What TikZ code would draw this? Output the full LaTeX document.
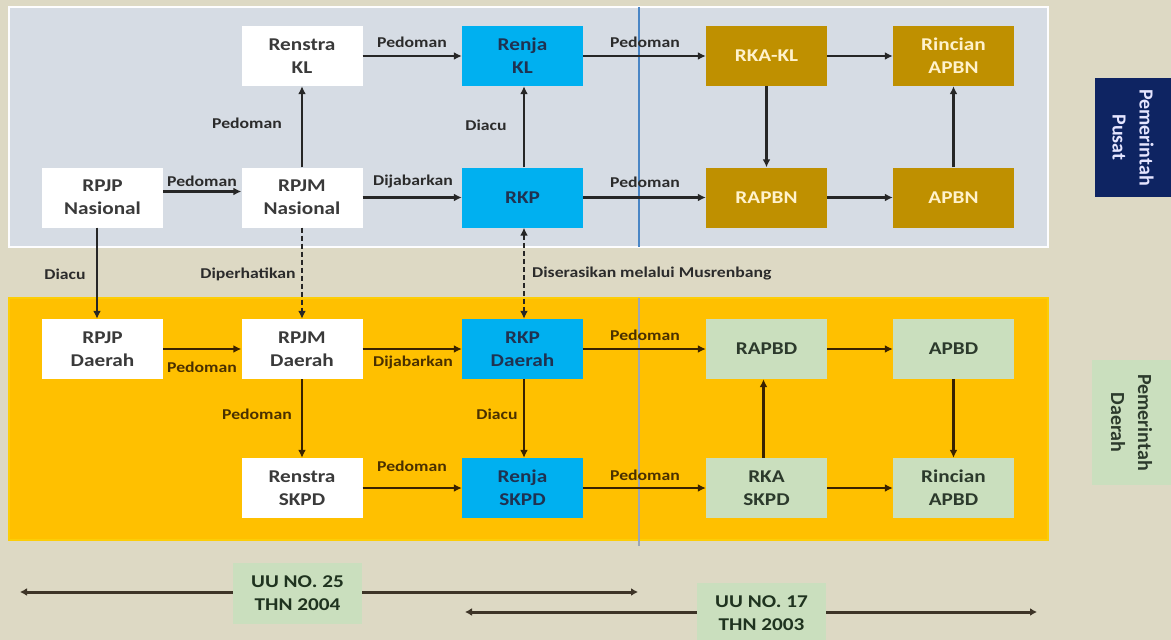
\documentclass[tikz,border=0pt]{standalone}
\usepackage{fontspec}
\setmainfont{Carlito}
\newfontfamily\bx{Carlito}[FakeStretch=1.18]
\usetikzlibrary{arrows.meta}
\definecolor{bgtan}{HTML}{DDD9C4}
\definecolor{toppanel}{HTML}{D6DCE4}
\definecolor{botpanel}{HTML}{FFC000}
\definecolor{cyanbox}{HTML}{00B0F0}
\definecolor{cyantxt}{HTML}{1F3251}
\definecolor{goldbox}{HTML}{BF9000}
\definecolor{goldtxt}{HTML}{FFF2CC}
\definecolor{greenbox}{HTML}{CADFBE}
\definecolor{greentxt}{HTML}{2C3A2C}
\definecolor{uutxt}{HTML}{1F331F}
\definecolor{txtdark}{HTML}{3A3A3A}
\definecolor{arrtop}{HTML}{262626}
\definecolor{arrbot}{HTML}{3A2200}
\definecolor{lbltop}{HTML}{2B2B2B}
\definecolor{lblbot}{HTML}{4A3000}
\definecolor{navy}{HTML}{0E2462}
\definecolor{tlcol}{HTML}{3D3427}
\definecolor{vline}{HTML}{4A86C5}
\definecolor{vlineb}{HTML}{9DA7B5}
\tikzset{
 box/.style={minimum width=121pt, minimum height=60pt, inner sep=0pt, align=center,
   font=\bx\bfseries\fontsize{18}{23}\selectfont},
 wbox/.style={box, fill=white, text=txtdark},
 cbox/.style={box, fill=cyanbox, text=cyantxt},
 gbox/.style={box, fill=goldbox, text=goldtxt},
 lbox/.style={box, fill=greenbox, text=greentxt},
 arr/.style={line width=2.4pt, draw=arrtop, -{Latex[length=8pt,width=8pt]}},
 arrb/.style={arr, draw=arrbot},
 darr/.style={line width=2.6pt, draw=arrtop, dash pattern=on 5pt off 3pt,
   {Latex[length=8pt,width=8pt]}-{Latex[length=8pt,width=8pt]}},
 lbl/.style={font=\bx\bfseries\fontsize{15}{18}\selectfont, text=lbltop, inner sep=0pt},
 lblb/.style={lbl, text=lblbot},
 side/.style={rotate=-90, align=center, inner sep=0pt,
   font=\bfseries\fontsize{20}{27}\selectfont},
 uubox/.style={fill=greenbox, minimum width=129pt, minimum height=61pt, inner sep=0pt, align=center,
   text=uutxt, font=\bx\bfseries\fontsize{18}{23}\selectfont},
 tl/.style={line width=3pt, draw=tlcol, -{Latex[length=7pt,width=8pt]}}
}
\begin{document}
\begin{tikzpicture}[x=1pt,y=-1pt]
\fill[bgtan] (0,0) rectangle (1171,640);
\useasboundingbox (0,0) rectangle (1171,640);
\clip (0,0) rectangle (1171,640);
% panels
\draw[fill=toppanel, draw=white!95!toppanel, line width=2pt] (9,7) rectangle (1048,247);
\draw[fill=botpanel, draw=yellow!30!botpanel, line width=2pt] (9,298) rectangle (1048,540);
\draw[vline, line width=1.2pt] (639,7) -- (639,247);
\draw[vlineb, line width=1.2pt] (639,298) -- (639,546);

% top nodes
\node[wbox] (renstrakl) at (302,56) {Renstra\\KL};
\node[cbox] (renjakl) at (522.5,56) {Renja\\KL};
\node[gbox] (rkakl) at (766.5,56) {RKA-KL};
\node[gbox] (rincianapbn) at (953.5,56) {Rincian\\APBN};
\node[wbox] (rpjpnas) at (102.5,197.5) {RPJP\\Nasional};
\node[wbox] (rpjmnas) at (302,197.5) {RPJM\\Nasional};
\node[cbox] (rkp) at (522.5,197.5) {RKP};
\node[gbox] (rapbn) at (766.5,197.5) {RAPBN};
\node[gbox] (apbn) at (953.5,197.5) {APBN};
% bottom nodes
\node[wbox] (rpjpda) at (102.5,349) {RPJP\\Daerah};
\node[wbox] (rpjmda) at (302,349) {RPJM\\Daerah};
\node[cbox] (rkpda) at (522.5,349) {RKP\\Daerah};
\node[lbox] (rapbd) at (766.5,349) {RAPBD};
\node[lbox] (apbd) at (953.5,349) {APBD};
\node[wbox] (renstraskpd) at (302,488) {Renstra\\SKPD};
\node[cbox] (renjaskpd) at (522.5,488) {Renja\\SKPD};
\node[lbox] (rkaskpd) at (766.5,488) {RKA\\SKPD};
\node[lbox] (rincianapbd) at (953.5,488) {Rincian\\APBD};

% side labels
\node[side, fill=navy, text=white!90!blue, minimum width=119pt, minimum height=76pt] (pusat) at (1133,137.5) {Pemerintah\\Pusat};
\node[side, fill=greenbox, text=greentxt, minimum width=125pt, minimum height=79pt] (daerah) at (1131.5,422.5) {Pemerintah\\Daerah};

% top arrows
\draw[arr] (renstrakl) -- (renjakl);
\draw[arr] (renjakl) -- (rkakl);
\draw[arr] (rkakl) -- (rincianapbn);
\draw[arr] ([yshift=6pt]rpjpnas.east) -- ([yshift=6pt]rpjmnas.west);
\draw[arr] (rpjmnas) -- (rkp);
\draw[arr] (rkp) -- (rapbn);
\draw[arr] (rapbn) -- (apbn);
\draw[arr] (rpjmnas) -- (renstrakl);
\draw[arr] ([xshift=1.5pt]rkp.north) -- ([xshift=1.5pt]renjakl.south);
\draw[arr] (rkakl) -- (rapbn);
\draw[arr] (apbn) -- (rincianapbn);
% between
\draw[arr] ([xshift=-5.5pt]rpjpnas.south) -- ([xshift=-5.5pt]rpjpda.north);
\draw[darr, -{Latex[length=8pt,width=8pt]}] (rpjmnas) -- (rpjmda);
\draw[darr] ([xshift=1.5pt]rkp.south) -- ([xshift=1.5pt]rkpda.north);
% bottom arrows
\draw[arrb] (rpjpda) -- (rpjmda);
\draw[arrb] (rpjmda) -- (rkpda);
\draw[arrb] (rkpda) -- (rapbd);
\draw[arrb] (rapbd) -- (apbd);
\draw[arrb] (rpjmda) -- (renstraskpd);
\draw[arrb] ([xshift=1.5pt]rkpda.south) -- ([xshift=1.5pt]renjaskpd.north);
\draw[arrb] (renstraskpd) -- (renjaskpd);
\draw[arrb] (renjaskpd) -- (rkaskpd);
\draw[arrb] (rkaskpd) -- (rincianapbd);
\draw[arrb] ([xshift=-3pt]rkaskpd.north) -- ([xshift=-3pt]rapbd.south);
\draw[arrb] (apbd) -- (rincianapbd);

% labels top
\node[lbl] (l1) at (412,42) {Pedoman};
\node[lbl] (l2) at (645,42) {Pedoman};
\node[lbl] (l3) at (247,123) {Pedoman};
\node[lbl] (l4) at (486,125) {Diacu};
\node[lbl] (l5) at (202,181) {Pedoman};
\node[lbl] (l6) at (413,182) {Dijabarkan};
\node[lbl] (l7) at (645,182) {Pedoman};
\node[lbl] (l8) at (65,274) {Diacu};
\node[lbl] (l9) at (248,274) {Diperhatikan};
\node[lbl, anchor=west] (l10) at (532,274) {Diserasikan melalui Musrenbang};
% labels bottom
\node[lblb] (l11) at (202,367) {Pedoman};
\node[lblb] (l12) at (413,363) {Dijabarkan};
\node[lblb] (l13) at (645,335) {Pedoman};
\node[lblb] (l14) at (257,414) {Pedoman};
\node[lblb] (l15) at (497,414) {Diacu};
\node[lblb] (l16) at (412,466) {Pedoman};
\node[lblb] (l17) at (645,475) {Pedoman};

% timeline
\node[uubox] (uu25) at (297.5,593.5) {UU NO. 25\\THN 2004};
\node[uubox] (uu17) at (761.5,613.5) {UU NO. 17\\THN 2003};
\coordinate (t1l) at (20,592);
\coordinate (t1r) at (638,592);
\coordinate (t2l) at (465,612);
\coordinate (t2r) at (1037,612);
\draw[tl] ([yshift=1.5pt]uu25.west) -- (t1l);
\draw[tl] ([yshift=1.5pt]uu25.east) -- (t1r);
\draw[tl] ([yshift=1.5pt]uu17.west) -- (t2l);
\draw[tl] ([yshift=1.5pt]uu17.east) -- (t2r);
\end{tikzpicture}
\end{document}
